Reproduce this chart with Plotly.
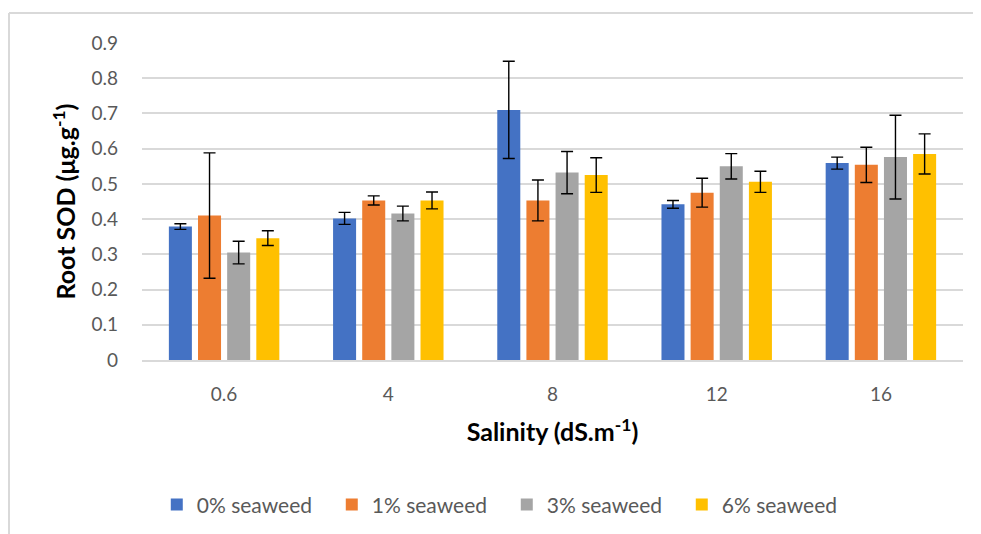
import plotly.graph_objects as go

categories = ["0.6", "4", "8", "12", "16"]
series_names = ["0% seaweed", "1% seaweed", "3% seaweed", "6% seaweed"]
colors = ["#4472C4", "#ED7D31", "#A5A5A5", "#FFC000"]

sw0 = [0.379, 0.402, 0.710, 0.442, 0.559]
sw1 = [0.410, 0.453, 0.453, 0.475, 0.554]
sw3 = [0.305, 0.416, 0.532, 0.550, 0.576]
sw6 = [0.346, 0.453, 0.525, 0.506, 0.585]

err0 = [0.008, 0.017, 0.138, 0.011, 0.017]
err1 = [0.178, 0.013, 0.058, 0.041, 0.050]
err3 = [0.032, 0.021, 0.060, 0.036, 0.119]
err6 = [0.021, 0.024, 0.049, 0.030, 0.057]

values = [sw0, sw1, sw3, sw6]
errors = [err0, err1, err3, err6]

fig = go.Figure()
for name, col, v, e in zip(series_names, colors, values, errors):
    fig.add_trace(go.Bar(
        x=categories, y=v, name=name,
        marker=dict(color=col, line=dict(width=0)),
        error_y=dict(type="data", array=e, visible=True, color="black",
                     thickness=1.4, width=6),
    ))

font_family = "Lato, 'Open Sans', sans-serif"
fig.update_layout(
    width=973, height=526,
    margin=dict(l=134, r=18, t=35, b=174, autoexpand=False),
    paper_bgcolor="white", plot_bgcolor="white",
    barmode="group", bargap=0.29, bargroupgap=0.21,
    font=dict(family=font_family, color="#595959", size=19),
    showlegend=True,
    legend=dict(orientation="h", x=0.018, xanchor="left", y=-0.457, yanchor="middle",
                font=dict(size=21, color="#595959"), traceorder="normal",
                itemwidth=30, entrywidth=130, entrywidthmode="pixels",
                borderwidth=0),
    xaxis=dict(
        type="category", showgrid=False, ticks="", tickfont=dict(size=19, color="#595959"),
        ticklabelstandoff=16, automargin=False,
        showline=True, linecolor="#d9d9d9", linewidth=1.5,
        title=dict(text="<b>Salinity (dS.m<sup>-1</sup>)</b>", font=dict(size=25, color="black"),
                   standoff=20),
    ),
    yaxis=dict(
        range=[0, 0.9], dtick=0.1, showgrid=True, gridcolor="#d9d9d9", gridwidth=1.5,
        zeroline=False, ticks="", tickfont=dict(size=19, color="#595959"),
        ticklabelstandoff=23, automargin=False,
        title=dict(text="<b>Root SOD (μg.g<sup>-1</sup>)</b>", font=dict(size=25, color="black"),
                   standoff=8),
    ),
    shapes=[
        dict(type="line", xref="paper", yref="paper", x0=-0.162, x1=1.03, y0=1.0946, y1=1.0946,
             line=dict(color="#d9d9d9", width=2)),
        dict(type="line", xref="paper", yref="paper", x0=-0.162, x1=-0.162, y0=1.0946, y1=-0.6,
             line=dict(color="#d9d9d9", width=2)),
    ],
)

fig.write_html("out.html")
